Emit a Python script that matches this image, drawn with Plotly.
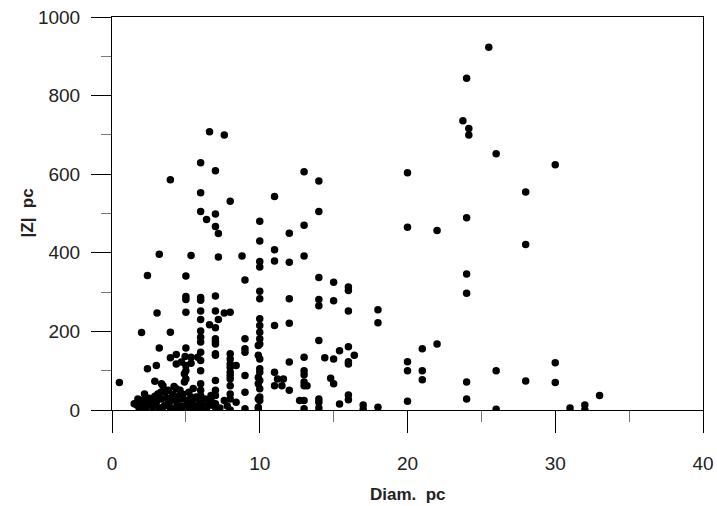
import plotly.graph_objects as go

# Diameter (pc) and |Z| (pc)
diam_pc = [
    0.5, 1.5, 1.75, 1.85, 2.0, 2.0, 2.2, 2.4, 2.4, 2.45, 2.75, 2.9, 3.0, 3.05, 3.1, 3.2, 3.2,
    3.35, 3.35, 3.45, 3.55, 3.8, 3.95, 3.95, 3.95, 4.0, 4.25, 4.35, 4.35, 4.35, 4.6, 4.7, 4.7,
    4.9, 4.9, 4.95, 5.0, 5.0, 5.0, 5.0, 5.0, 5.0, 5.0, 5.0, 5.0, 5.15, 5.35, 5.35, 5.35, 5.35,
    5.6, 5.7, 5.8,
    6.0, 6.0, 6.0, 6.0, 6.0, 6.0, 6.0, 6.0, 6.0, 6.0, 6.0, 6.0, 6.0, 6.0, 6.0, 6.0, 6.0, 6.0,
    6.3, 6.4, 6.6, 6.6, 6.7, 6.7,
    7.0, 7.0, 7.0, 7.0, 7.0, 7.0, 7.0, 7.0, 7.0, 7.0, 7.0, 7.0, 7.0, 7.0, 7.0, 7.0,
    7.2, 7.2, 7.2, 7.6, 7.6, 7.6,
    8.0, 8.0, 8.0, 8.0, 8.0, 8.0, 8.0, 8.0, 8.0, 8.0, 8.0, 8.0, 8.0,
    8.4, 8.4, 8.8, 9.0, 9.0, 9.0, 9.0, 9.0, 9.0, 9.0,
    9.9, 9.9, 9.9, 9.9, 9.9, 9.9, 9.9,
    10.0, 10.0, 10.0, 10.0, 10.0, 10.0, 10.0, 10.0, 10.0, 10.0, 10.0, 10.0, 10.0, 10.0, 10.0,
    10.0, 10.0, 10.0,
    11.0, 11.0, 11.0, 11.0, 11.0, 11.0, 11.2, 11.5, 11.6,
    12.0, 12.0, 12.0, 12.0, 12.0, 12.0, 12.7,
    13.0, 13.0, 13.0, 13.0, 13.0, 13.0, 13.0, 13.0, 13.0, 13.0, 13.2,
    14.0, 14.0, 14.0, 14.0, 14.0, 14.0, 14.0, 14.0, 14.0, 14.4, 14.8,
    15.0, 15.0, 15.0, 15.0, 15.4, 15.4,
    16.0, 16.0, 16.0, 16.0, 16.0, 16.0, 16.0, 16.0, 16.4,
    17.0, 17.0, 18.0, 18.0, 18.0,
    20.0, 20.0, 20.0, 20.0, 20.0, 21.0, 21.0, 21.0, 22.0, 22.0,
    23.75, 24.0, 24.0, 24.0, 24.0, 24.0, 24.0, 24.15, 24.15, 25.5,
    26.0, 26.0, 26.0, 28.0, 28.0, 28.0, 30.0, 30.0, 30.0, 31.0, 32.0, 32.0, 33.0,
    # dense cluster near the bottom-left
    1.7, 2.3, 2.6, 3.0, 3.2, 3.7, 3.9, 4.1, 4.4, 4.5, 4.8, 5.2, 5.4, 5.5, 5.7, 4.2, 3.6, 2.9,
    2.1, 2.5, 3.4, 4.6, 5.1, 5.9, 6.2, 6.5,
    1.9, 2.7, 3.3, 3.8, 4.3, 4.8, 5.3, 5.6, 6.4, 6.8, 7.3, 7.8,
]

z_pc = [
    70, 16, 28, 0, 11, 197, 41, 105, 342, 20, 7, 73, 113, 247, 41, 158, 396,
    28, 67, 62, 11, 50, 133, 198, 586, 24, 3, 54, 117, 141, 50, 28, 122,
    71, 92, 136, 0, 79, 100, 113, 158, 249, 281, 289, 341, 16, 33, 119, 134, 393,
    3, 33, 134,
    7, 20, 37, 67, 100, 126, 147, 173, 185, 201, 230, 252, 279, 286, 505, 553, 629, 50,
    28, 485, 217, 708, 37, 24,
    7, 16, 37, 50, 75, 139, 143, 168, 175, 181, 209, 252, 290, 467, 499, 609,
    230, 389, 449, 24, 247, 700,
    0, 28, 41, 62, 79, 88, 96, 109, 117, 130, 143, 249, 531,
    20, 113, 392, 3, 45, 88, 147, 156, 181, 331,
    0, 7, 28, 67, 83, 139, 164,
    24, 33, 54, 75, 96, 105, 130, 168, 181, 198, 215, 232, 283, 302, 364,
    378, 430, 480,
    62, 96, 215, 379, 408, 543, 79, 62, 79,
    50, 122, 221, 283, 376, 450, 24,
    3, 24, 62, 71, 90, 100, 134, 392, 470, 606, 62,
    5, 20, 28, 177, 265, 281, 337, 505, 583, 133, 81,
    67, 130, 278, 325, 15, 151,
    26, 38, 117, 123, 161, 252, 304, 313, 139,
    1, 13, 7, 222, 255,
    22, 100, 123, 465, 604, 77, 100, 156, 168, 457,
    736, 28, 71, 297, 346, 489, 844, 700, 716, 923,
    2, 100, 652, 74, 421, 555, 70, 120, 624, 5, 0, 13, 37,
    12, 5, 15, 20, 5, 30, 8, 40, 15, 35, 10, 45, 20, 55, 10, 60, 45, 35,
    25, 30, 5, 5, 25, 15, 10, 12,
    5, 25, 45, 15, 30, 40, 8, 30, 5, 12, 5, 10,
]

x_ticks = [0, 10, 20, 30, 40]
y_ticks = [0, 200, 400, 600, 800, 1000]

FONT = "Liberation Sans, Arial, sans-serif"

fig = go.Figure(
    go.Scatter(
        x=diam_pc, y=z_pc, mode="markers",
        marker=dict(color="black", size=7.5, line=dict(width=0)),
        hoverinfo="x+y",
    )
)

axis_common = dict(
    showgrid=False, zeroline=False, automargin=False,
    showline=True, linecolor="black", linewidth=1, mirror=True,
    ticks="outside", tickcolor="black", tickwidth=1,
    tickfont=dict(family=FONT, size=19, color="#222"),
)

fig.update_xaxes(
    range=[0, 40], tickvals=x_ticks, ticklen=22, ticklabelstandoff=14,
    minor=dict(dtick=5, tick0=0, ticks="outside", ticklen=11, tickcolor="#777", tickwidth=1),
    **axis_common,
)
fig.update_yaxes(
    range=[0, 1000], tickvals=y_ticks, ticklen=20, ticklabelstandoff=7,
    minor=dict(dtick=100, tick0=0, ticks="outside", ticklen=10, tickcolor="#777", tickwidth=1),
    **axis_common,
)

fig.add_annotation(
    text="<b>Diam.  pc</b>", xref="paper", yref="paper", x=0.5, y=0,
    xanchor="center", yanchor="middle", yshift=-84, showarrow=False,
    font=dict(family=FONT, size=17, color="#222"),
)
fig.add_annotation(
    text="<b>|Z|  pc</b>", xref="paper", yref="paper", x=0, y=0.5,
    xanchor="center", yanchor="middle", xshift=-85, textangle=-90, showarrow=False,
    font=dict(family=FONT, size=17, color="#222"),
)

fig.update_layout(
    width=717, height=506,
    margin=dict(l=112, r=14, t=17, b=96),
    plot_bgcolor="white", paper_bgcolor="white",
    showlegend=False,
)

fig.write_html(
    "out.html",
    config={"displayModeBar": False},
    post_script="document.body.style.margin='0';document.body.style.overflow='hidden';",
)
